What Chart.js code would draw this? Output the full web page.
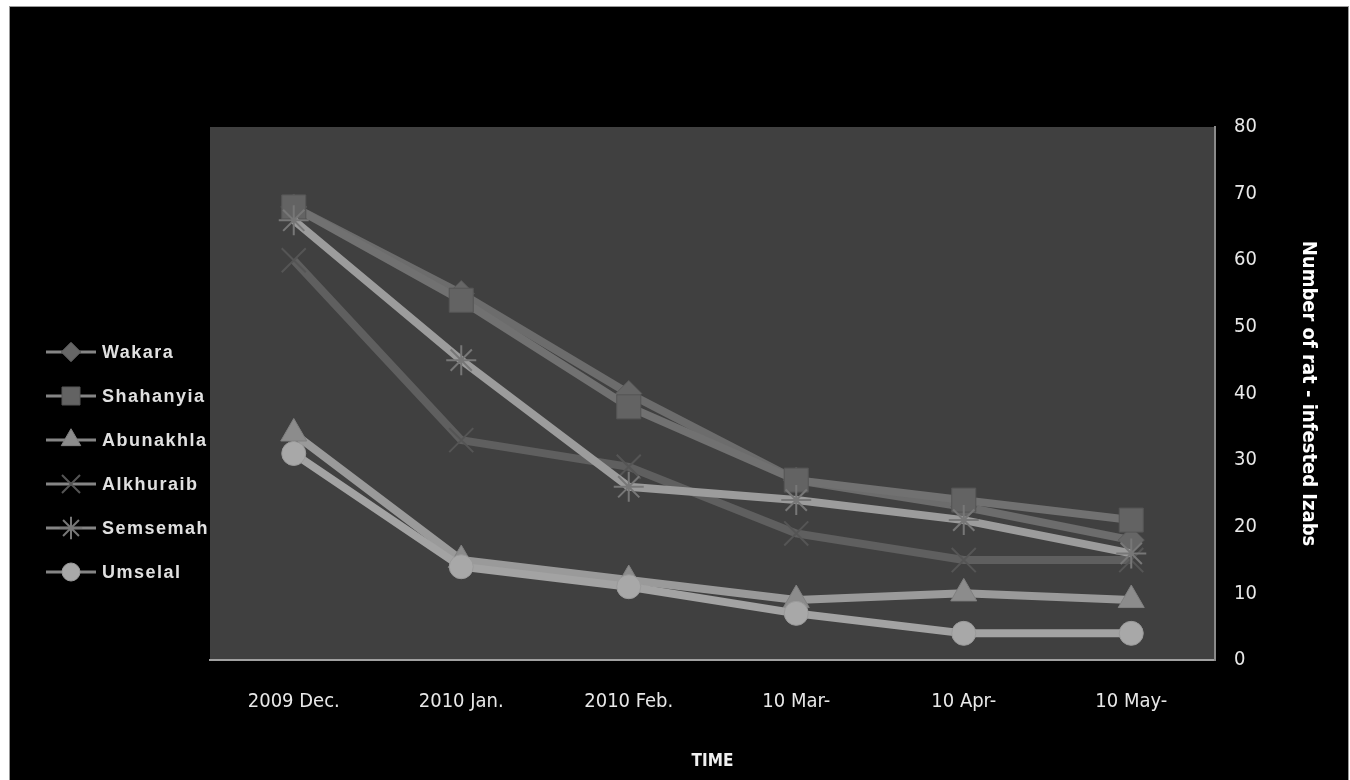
<!DOCTYPE html>
<html>
<head>
<meta charset="utf-8">
<script src="https://cdn.jsdelivr.net/npm/chart.js@4.4.0/dist/chart.umd.min.js"></script>
<style>
  html, body { margin: 0; padding: 0; background: #fff; }
  #frame {
    position: absolute; left: 9px; top: 6px; width: 1338px; height: 774px;
    background: #000; border-left: 1px solid #999; border-top: 1px solid #999; border-right: 1px solid #999;
  }
  #wrap { position: absolute; left: 0; top: 0; width: 1350px; height: 780px; }
</style>
</head>
<body>
<div id="frame"></div>
<div id="wrap"><canvas id="ratChart" width="1350" height="780"></canvas></div>
<script>
// Values
const months = ['2009 Dec.', '2010 Jan.', '2010 Feb.', '10 Mar-', '10 Apr-', '10 May-'];
const yTicks = [0, 10, 20, 30, 40, 50, 60, 70, 80];

const wakara    = [68, 55, 40, 27, 23, 18];
const shahanyia = [68, 54, 38, 27, 24, 21];
const abunakhla = [34, 15, 12, 9, 10, 9];
const alkhuraib = [60, 33, 29, 19, 15, 15];
const semsemah  = [66, 45, 26, 24, 21, 16];
const umselal   = [31, 14, 11, 7, 4, 4];

const seriesNames = ['Wakara', 'Shahanyia', 'Abunakhla', 'Alkhuraib', 'Semsemah', 'Umselal'];
const seriesData = [wakara, shahanyia, abunakhla, alkhuraib, semsemah, umselal];

// look of each series (line colour, marker style, marker fill)
const styles = [
    { line: '#6c6c6c', point: 'rectRot',  fill: '#666666', border: '#5a5a5a', radius: 13, bw: 1 },
    { line: '#717171', point: 'rect',     fill: '#636363', border: '#555555', radius: 17, bw: 1 },
    { line: '#9a9a9a', point: 'triangle', fill: '#8c8c8c', border: '#808080', radius: 15, bw: 1 },
    { line: '#5f5f5f', point: 'crossRot', fill: '#555555', border: '#555555', radius: 17, bw: 2 },
    { line: '#9c9c9c', point: 'star',     fill: '#777777', border: '#777777', radius: 15, bw: 2 },
    { line: '#a3a3a3', point: 'circle',   fill: '#a8a8a8', border: '#9a9a9a', radius: 12, bw: 1 }
];

const datasets = seriesData.map((values, i) => ({
    label: seriesNames[i],
    data: values,
    borderColor: styles[i].line,
    borderWidth: 8,
    pointStyle: styles[i].point,
    pointRadius: styles[i].radius,
    pointBackgroundColor: styles[i].fill,
    pointBorderColor: styles[i].border,
    pointBorderWidth: styles[i].bw,
    tension: 0,
    order: seriesNames.length - i   // later series drawn on top, like the original
}));

// draws the legend on the left (behind the plot area, which clips "Semsemah")
const sideLegend = {
    id: 'sideLegend',
    beforeDraw(chart) {
        const ctx = chart.ctx;
        ctx.save();
        seriesNames.forEach((name, i) => {
            const y = 352 + i * 44;
            ctx.strokeStyle = '#858585';
            ctx.lineWidth = 3;
            ctx.beginPath();
            ctx.moveTo(46, y);
            ctx.lineTo(96, y);
            ctx.stroke();
            ctx.fillStyle = styles[i].fill;
            ctx.strokeStyle = styles[i].border;
            ctx.lineWidth = styles[i].bw;
            Chart.helpers.drawPoint(ctx, {
                pointStyle: styles[i].point,
                radius: styles[i].radius * 0.75,
                rotation: 0,
                borderWidth: styles[i].bw
            }, 71, y);
            ctx.fillStyle = '#e0e0e0';
            ctx.font = 'bold 18px "Liberation Sans", Arial, sans-serif';
            ctx.letterSpacing = '1.5px';
            ctx.textBaseline = 'middle';
            ctx.fillText(name, 102, y + 1);
        });
        ctx.restore();

        // plot area background
        const a = chart.chartArea;
        ctx.save();
        ctx.fillStyle = '#404040';
        ctx.fillRect(a.left, a.top, a.right - a.left, a.bottom - a.top);
        ctx.restore();
    }
};

const ctx = document.getElementById('ratChart').getContext('2d');

new Chart(ctx, {
    type: 'line',
    data: {
        labels: months,
        datasets: datasets
    },
    options: {
        responsive: false,
        animation: false,
        layout: {
            padding: { left: 210, top: 127, right: 30, bottom: 4 }
        },
        scales: {
            x: {
                type: 'category',
                offset: true,
                grid: { display: true, drawOnChartArea: false, drawTicks: false },
                border: { display: true, color: '#a0a0a0', width: 2 },
                ticks: {
                    color: '#e8e8e8',
                    padding: 30,
                    font: { family: '"DejaVu Sans Condensed", "Liberation Sans", sans-serif', size: 20 }
                },
                title: {
                    display: true,
                    text: 'TIME',
                    color: '#f0f0f0',
                    padding: { top: 50 },
                    font: { family: '"DejaVu Sans Condensed", "Liberation Sans", sans-serif', size: 17, weight: 'bold' }
                },
                afterFit(scale) { scale.height = 116; }
            },
            y: {
                position: 'right',
                min: 0,
                max: 80,
                afterBuildTicks(scale) { scale.ticks = yTicks.map(v => ({ value: v })); },
                grid: { display: true, drawOnChartArea: false, drawTicks: false },
                border: { display: true, color: '#8a8a8a', width: 2 },
                ticks: {
                    color: '#e8e8e8',
                    padding: 19,
                    font: { family: '"DejaVu Sans Condensed", "Liberation Sans", sans-serif', size: 20 }
                },
                title: {
                    display: true,
                    text: 'Number of rat - infested Izabs',
                    color: '#ffffff',
                    padding: { top: 0, bottom: 22 },
                    font: { family: '"DejaVu Sans Condensed", "Liberation Sans", sans-serif', size: 20, weight: 'bold' }
                },
                afterFit(scale) { scale.width = 105; }
            }
        },
        plugins: {
            legend: { display: false },
            tooltip: { enabled: false }
        }
    },
    plugins: [sideLegend]
});
</script>
</body>
</html>
